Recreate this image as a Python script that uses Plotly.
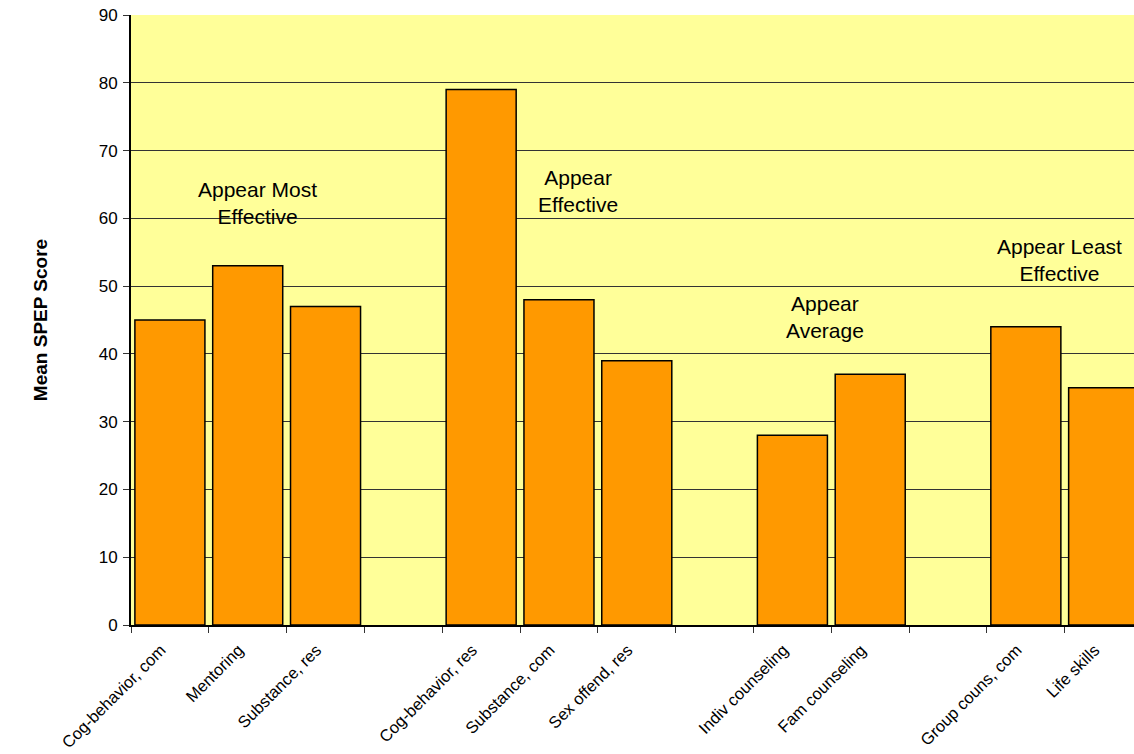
import plotly.graph_objects as go

# Program slots along the x axis; blank entries separate the effectiveness groups
categories = [
    "Cog-behavior, com", "Mentoring", "Substance, res", "",
    "Cog-behavior, res", "Substance, com", "Sex offend, res", "",
    "Indiv counseling", "Fam counseling", "",
    "Group couns, com", "Life skills",
]
scores = [45, 53, 47, None, 79, 48, 39, None, 28, 37, None, 44, 35]

group_labels = ["Appear Most<br>Effective", "Appear<br>Effective",
                "Appear<br>Average", "Appear Least<br>Effective"]
group_label_x = [1.12, 5.25, 8.42, 11.43]
group_label_y = [62.2, 64.1, 45.5, 53.8]

slots = list(range(len(categories)))
FONT = "Arial, Liberation Sans, sans-serif"

fig = go.Figure()
fig.add_trace(go.Bar(
    x=slots,
    y=scores,
    marker=dict(color="#FF9900", line=dict(color="#000000", width=1.5)),
    hoverinfo="skip",
))

for txt, gx, gy in zip(group_labels, group_label_x, group_label_y):
    fig.add_annotation(x=gx, y=gy, xref="x", yref="y", text=txt,
                       showarrow=False, align="center",
                       font=dict(family=FONT, size=21, color="#000000"))

fig.update_layout(
    width=1134, height=754,
    margin=dict(l=131, r=0, t=15, b=129),
    paper_bgcolor="#FFFFFF",
    plot_bgcolor="#FFFF99",
    bargap=0.1,
    showlegend=False,
    font=dict(family=FONT, color="#000000"),
)

fig.update_xaxes(
    range=[-0.5, 12.39],
    automargin=False,
    tickmode="array",
    tickvals=slots,
    ticktext=categories,
    tickangle=-45,
    ticks="",
    tickfont=dict(family=FONT, size=16.5),
    ticklabelstandoff=7,
    ticklabelshift=-9,
    showgrid=False,
    zeroline=False,
    showline=True, linecolor="#000000", linewidth=2,
    minor=dict(tickmode="array",
               tickvals=[s - 0.5 for s in slots] + [len(slots) - 0.5],
               ticks="outside", ticklen=6, tickcolor="#333333", tickwidth=1,
               showgrid=False),
)

fig.update_yaxes(
    range=[0, 90],
    automargin=False,
    dtick=10,
    ticks="outside", ticklen=6, tickcolor="#333333",
    tickfont=dict(family=FONT, size=17),
    ticklabelstandoff=2,
    showgrid=True, gridcolor="#333333", gridwidth=1,
    zeroline=False,
    showline=True, linecolor="#000000", linewidth=2,
    title=dict(text="<b>Mean SPEP Score</b>", standoff=46,
               font=dict(family=FONT, size=19)),
)

fig.write_html("out.html")
